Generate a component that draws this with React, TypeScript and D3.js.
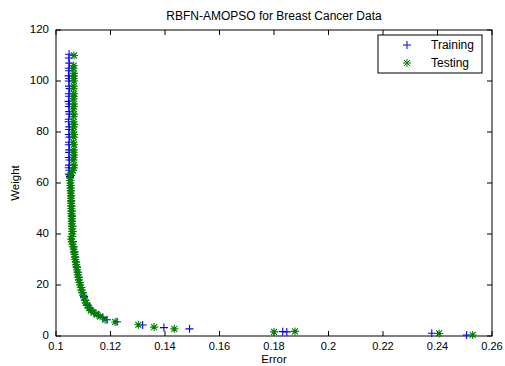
import React from "react";
import * as d3 from "d3";

const title = "RBFN-AMOPSO for Breast Cancer Data";
const xLabel = "Error";
const yLabel = "Weight";
const xTicks = [0.1, 0.12, 0.14, 0.16, 0.18, 0.2, 0.22, 0.24, 0.26];
const yTicks = [0, 20, 40, 60, 80, 100, 120];
const seriesNames = ["Training", "Testing"];

// Training (blue +): [error, weight]
const training: [number, number][] = [
  [0.1048, 110.5], [0.1047, 109], [0.1049, 107], [0.1047, 105], [0.1048, 104], [0.1046, 102], [0.1049, 101],
  [0.1047, 100], [0.1048, 98], [0.1050, 97], [0.1047, 95], [0.1048, 94], [0.1046, 92], [0.1049, 91],
  [0.1047, 90], [0.1048, 88], [0.1050, 87], [0.1047, 85], [0.1046, 84], [0.1049, 82], [0.1048, 81],
  [0.1047, 79], [0.1050, 78], [0.1048, 76], [0.1047, 75], [0.1049, 73], [0.1048, 72], [0.1047, 70],
  [0.1050, 69], [0.1048, 67], [0.1047, 66], [0.1049, 65], [0.1048, 63.5], [0.1051, 62.5],
  [0.1053, 61], [0.1054, 59], [0.1055, 57], [0.1056, 55], [0.1056, 53], [0.1057, 51], [0.1058, 49],
  [0.1059, 47], [0.1059, 45], [0.1060, 43], [0.1061, 41], [0.1060, 39], [0.1062, 37], [0.1065, 35],
  [0.1068, 33], [0.1071, 31], [0.1074, 29], [0.1077, 27], [0.1081, 25], [0.1084, 23], [0.1088, 21],
  [0.1093, 19], [0.1098, 17], [0.1103, 15.5], [0.1108, 14], [0.1114, 12.5], [0.1122, 11], [0.1132, 10],
  [0.1143, 9], [0.1156, 8.2], [0.1172, 7.2], [0.1187, 6.4], [0.1224, 5.6],
  [0.1318, 4.3], [0.1396, 3.3], [0.1490, 2.8], [0.1832, 1.7], [0.1847, 1.6], [0.2379, 1.1], [0.2507, 0.4],
];

// Testing (green *): [error, weight]
const testing: [number, number][] = [
  [0.1066, 110], [0.1065, 106], [0.1064, 105], [0.1066, 103], [0.1065, 102], [0.1064, 101], [0.1066, 100],
  [0.1065, 98], [0.1064, 97], [0.1066, 95], [0.1065, 94], [0.1064, 93], [0.1066, 91], [0.1065, 90],
  [0.1064, 89], [0.1066, 87], [0.1065, 86], [0.1064, 84], [0.1066, 83], [0.1065, 82], [0.1064, 80],
  [0.1066, 79], [0.1065, 78], [0.1064, 76], [0.1066, 75], [0.1065, 73], [0.1064, 72], [0.1066, 71],
  [0.1065, 70], [0.1064, 69], [0.1066, 67], [0.1065, 66], [0.1062, 65], [0.1058, 64], [0.1053, 63],
  [0.1052, 62], [0.1052, 61], [0.1053, 60], [0.1053, 59], [0.1054, 58], [0.1054, 57], [0.1054, 56],
  [0.1055, 55], [0.1055, 54], [0.1055, 53], [0.1056, 52], [0.1056, 51], [0.1056, 50], [0.1057, 49],
  [0.1057, 48], [0.1057, 47], [0.1058, 46], [0.1058, 45], [0.1058, 44], [0.1059, 43], [0.1059, 42],
  [0.1060, 41], [0.1060, 40], [0.1057, 39], [0.1056, 38], [0.1058, 37], [0.1061, 36], [0.1063, 35],
  [0.1065, 34], [0.1066, 33], [0.1068, 32], [0.1069, 31], [0.1071, 30], [0.1072, 29], [0.1074, 28],
  [0.1075, 27], [0.1077, 26], [0.1079, 25], [0.1080, 24], [0.1082, 23], [0.1084, 22], [0.1086, 21],
  [0.1089, 20], [0.1091, 19], [0.1094, 18], [0.1097, 17], [0.1100, 16], [0.1103, 15], [0.1106, 14],
  [0.1110, 13], [0.1115, 12], [0.1121, 11], [0.1128, 10], [0.1138, 9.2], [0.1150, 8.4], [0.1162, 7.7],
  [0.1180, 6.4], [0.1217, 5.5],
  [0.1302, 4.4], [0.1360, 3.5], [0.1434, 2.8], [0.1800, 1.6], [0.1877, 1.8], [0.2406, 1.0], [0.2529, 0.4],
];

const W = 505;
const H = 366;
const M = { left: 56, right: 13, top: 30, bottom: 30 };
const FONT = "'Liberation Sans', Arial, sans-serif";
const BLUE = "#0000ff";
const GREEN = "#008000";

const plusPath = "M-4,0H4M0,-4V4";
const starPath = "M-4,0H4M0,-4V4M-3,-3L3,3M-3,3L3,-3";

export default function App() {
  const x = d3.scaleLinear().domain([0.1, 0.26]).range([M.left, W - M.right]);
  const y = d3.scaleLinear().domain([0, 120]).range([H - M.bottom, M.top]);
  const x0 = M.left, x1 = W - M.right, y0 = H - M.bottom, y1 = M.top;
  const tl = 5;

  return (
    <svg width={W} height={H} style={{ position: "absolute", left: 0, top: 0, background: "#fff" }} fontFamily={FONT}>
      <rect x={0} y={0} width={W} height={H} fill="#fff" />
      <text x={(x0 + x1) / 2} y={20} textAnchor="middle" fontSize={12} fill="#000">{title}</text>
      <rect x={x0} y={y1} width={x1 - x0} height={y0 - y1} fill="#fff" stroke="#000" strokeWidth={1} />
      {xTicks.map((t) => (
        <g key={"x" + t}>
          <line x1={x(t)} x2={x(t)} y1={y0} y2={y0 - tl} stroke="#000" />
          <line x1={x(t)} x2={x(t)} y1={y1} y2={y1 + tl} stroke="#000" />
          <text x={x(t)} y={y0 + 14} textAnchor="middle" fontSize={11} fill="#000">{String(t)}</text>
        </g>
      ))}
      {yTicks.map((t) => (
        <g key={"y" + t}>
          <line x1={x0} x2={x0 + tl} y1={y(t)} y2={y(t)} stroke="#000" />
          <line x1={x1} x2={x1 - tl} y1={y(t)} y2={y(t)} stroke="#000" />
          <text x={x0 - 7} y={y(t) + 3} textAnchor="end" fontSize={11.5} fill="#000">{String(t)}</text>
        </g>
      ))}
      <text x={(x0 + x1) / 2} y={H - 3} textAnchor="middle" fontSize={11.5} fill="#000">{xLabel}</text>
      <text transform={`translate(19,${(y0 + y1) / 2}) rotate(-90)`} textAnchor="middle" fontSize={11.5} fill="#000">{yLabel}</text>
      <g>
        {training.map(([e, w], i) => (
          <path key={"tr" + i} d={plusPath} transform={`translate(${x(e)},${y(w)})`} stroke={BLUE} strokeWidth={1.1} fill="none" />
        ))}
        {testing.map(([e, w], i) => (
          <path key={"te" + i} d={starPath} transform={`translate(${x(e)},${y(w)})`} stroke={GREEN} strokeWidth={1.1} fill="none" />
        ))}
      </g>
      <g>
        <rect x={378} y={35} width={104} height={38} fill="#fff" stroke="#000" />
        <path d={plusPath} transform="translate(407,45)" stroke={BLUE} fill="none" />
        <text x={431} y={49} fontSize={12} fill="#000">{seriesNames[0]}</text>
        <path d={starPath} transform="translate(407,63)" stroke={GREEN} fill="none" />
        <text x={431} y={67} fontSize={12} fill="#000">{seriesNames[1]}</text>
      </g>
    </svg>
  );
}
